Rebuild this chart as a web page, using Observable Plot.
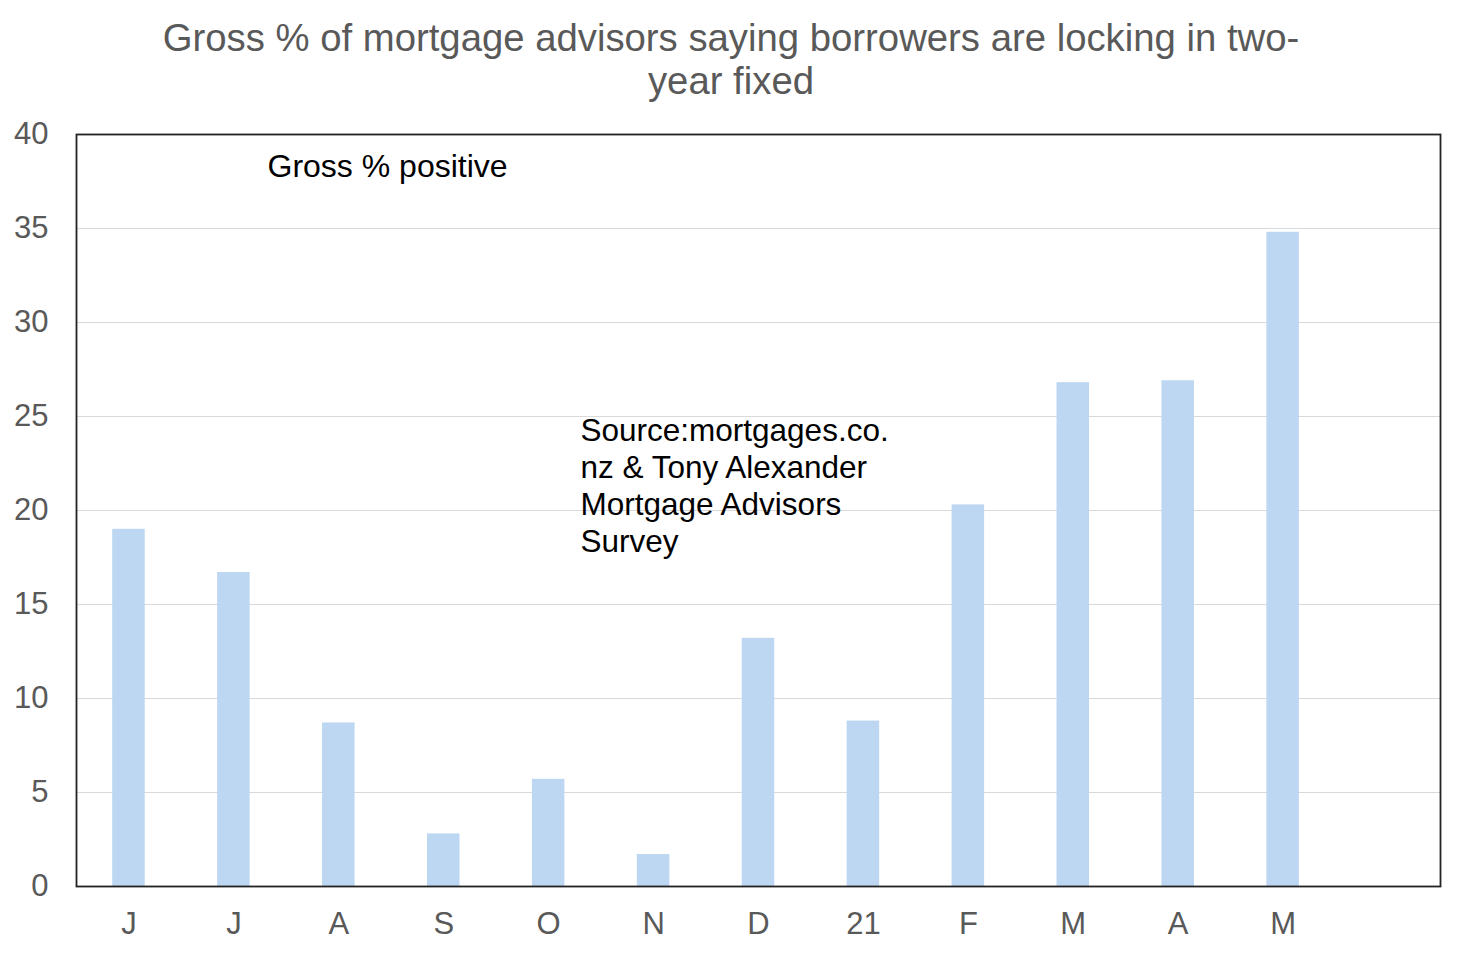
<!DOCTYPE html>
<html>
<head>
<meta charset="utf-8">
<script src="https://cdn.jsdelivr.net/npm/d3@7"></script>
<script src="https://cdn.jsdelivr.net/npm/@observablehq/plot@0.6"></script>
<style>
  html, body { margin: 0; padding: 0; background: white; }
  #title {
    width: 1462px; height: 110px; box-sizing: border-box;
    padding-top: 16px; text-align: center;
    font-family: "Liberation Sans", Arial, sans-serif;
    font-size: 38.3px; line-height: 43px; color: #595959;
  }
</style>
</head>
<body>
<div id="title">Gross % of mortgage advisors saying borrowers are locking in two-<br>year fixed</div>
<div id="chart"></div>
<script>
const monthLabels = ["J", "J", "A", "S", "O", "N", "D", "21", "F", "M", "A", "M"];
const grossPositive = [19.0, 16.7, 8.7, 2.8, 5.7, 1.7, 13.2, 8.8, 20.3, 26.8, 26.9, 34.8];
const yTicks = [0, 5, 10, 15, 20, 25, 30, 35, 40];
const slotCount = 13; // one empty slot at the right, as in the reference

const data = grossPositive.map((v, i) => ({i, label: monthLabels[i], v}));
const font = "Liberation Sans, Arial, sans-serif";

const chart = Plot.plot({
  width: 1462,
  height: 844,
  marginTop: 24,
  marginBottom: 68,
  marginLeft: 76,
  marginRight: 22,
  style: {fontFamily: font, fontSize: "31px", background: "white"},
  x: {type: "band", domain: d3.range(slotCount), paddingInner: 0.69, paddingOuter: 0.345, round: false},
  y: {domain: [0, 40]},
  marks: [
    Plot.gridY(yTicks, {stroke: "#d9d9d9", strokeOpacity: 1, strokeWidth: 1}),
    Plot.barY(data, {x: "i", y: "v", fill: "#BDD7F2"}),
    Plot.axisY(yTicks, {tickSize: 0, tickPadding: 28, fontSize: 31, fill: "#595959", label: null}),
    Plot.axisX({tickSize: 0, tickPadding: 25, fontSize: 31, fill: "#595959", label: null,
      tickFormat: i => monthLabels[i] ?? ""}),
    Plot.frame({stroke: "#222", strokeWidth: 1.8}),
    Plot.text(["Gross % positive"], {frameAnchor: "top-left", textAnchor: "start", lineAnchor: "middle",
      dx: 191, dy: 32, fontSize: 32, fill: "black"}),
    Plot.text(["Source:mortgages.co.\nnz & Tony Alexander\nMortgage Advisors\nSurvey"], {
      frameAnchor: "top-left", textAnchor: "start", lineAnchor: "top",
      dx: 504, dy: 280, fontSize: 31.5, lineHeight: 1.18, fill: "black"})
  ]
});
document.getElementById("chart").appendChild(chart);
</script>
</body>
</html>
